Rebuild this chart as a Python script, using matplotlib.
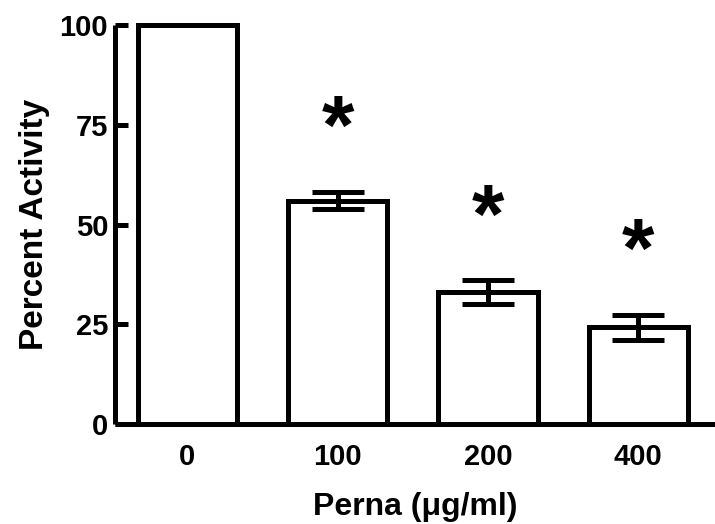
import numpy as np
import matplotlib.pyplot as plt

plt.rcParams['font.family'] = ['Liberation Sans', 'DejaVu Sans']
plt.rcParams['font.weight'] = 'bold'

# Datos
doses = ['0', '100', '200', '400']
activity = [100, 56, 33, 24.2]
sem = [0, 2.2, 3.0, 3.1]
significant = [False, True, True, True]

lw = 3.6

fig = plt.figure(figsize=(7.15, 5.24), dpi=100)
ax = fig.add_axes([0.161, 0.191, 0.839, 0.761])

x = np.arange(len(doses))
ax.bar(x, activity, width=0.66, color='white', edgecolor='black',
       linewidth=lw, clip_on=False, zorder=2)
ax.errorbar(x[1:], activity[1:], yerr=sem[1:], fmt='none', ecolor='black',
            elinewidth=lw, capsize=19, capthick=lw, zorder=3)

# asteriscos de significancia
for xi, m, e, s in zip(x, activity, sem, significant):
    if s:
        ax.text(xi, m + e + 15, '*', ha='center', va='center',
                fontsize=60, fontweight='bold')

ax.set_xlim(-0.48, 3.51)
ax.set_ylim(0, 100)
ax.set_yticks([0, 25, 50, 75, 100])
ax.set_xticks(x)
ax.set_xticklabels(doses)

for side in ['top', 'right']:
    ax.spines[side].set_visible(False)
for side in ['left', 'bottom']:
    ax.spines[side].set_linewidth(lw)
    ax.spines[side].set_capstyle('butt')

ax.tick_params(axis='y', direction='in', length=9, width=lw, labelsize=21, pad=5)
ax.tick_params(axis='x', length=0, labelsize=21, pad=14)

ax.set_xlabel('Perna (\u03bcg/ml)', fontsize=23, fontweight='bold', labelpad=15)
ax.set_ylabel('Percent Activity', fontsize=24, fontweight='bold', labelpad=7)

plt.savefig('out.png', dpi=100)
